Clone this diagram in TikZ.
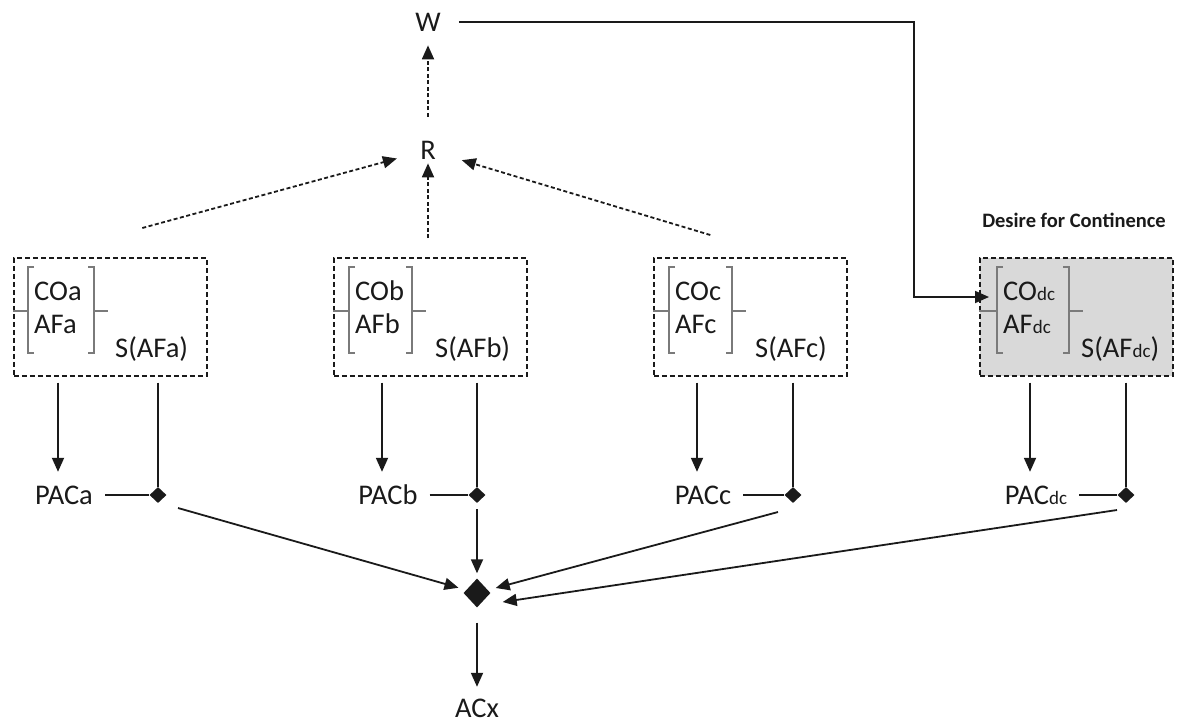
\documentclass[tikz,border=0pt]{standalone}
\usepackage{fontspec}
\setmainfont{Carlito}
\usetikzlibrary{arrows.meta,shapes.geometric}
\definecolor{ink}{HTML}{1A1A1A}
\definecolor{brkcol}{HTML}{7A7A7A}
\definecolor{shade}{HTML}{D9D9D9}
\newcommand\subdc{{\fontsize{19}{19}\selectfont dc}}
\newcommand\mkgrp[8]{%
 \node[grpbox,#4,anchor=north west] (box#1) at (#2,257) {};
 \draw[brkline] (#5+6,267) -- (#5,267) -- (#5,353) -- (#5+6,353);
 \draw[brkline] (#6-6,267) -- (#6,267) -- (#6,353) -- (#6-6,353);
 \draw[brkline] (#2,311) -- (#5,311);
 \draw[brkline] (#6,311) -- (#6+14,311);
 \coordinate (bl#1) at (#5,311);
 \node[txt,anchor=base west] (co#1) at (#5+6,300) {CO#3};
 \node[txt,anchor=base west] (af#1) at (#5+6,333) {AF#3};
 \node[txt,anchor=base west] (s#1) at (#2+102,357) {S(AF#3)};
 \node[pac] (pac#1) at (#7+6,495) {PAC#3};
 \node[sdia] (d#1) at (#8,495) {};
 \draw[arr,shorten <=6pt] ([xshift=-6pt]box#1.south -| pac#1.north) -- ([xshift=-6pt]pac#1.north);
 \draw[ln,shorten <=6pt] (box#1.south -| d#1) -- (d#1);
 \draw[ln] (pac#1) -- (d#1);
}
\begin{document}
\begin{tikzpicture}[x=1pt,y=-1pt,
 txt/.style={font=\fontsize{28.5}{30}\selectfont, text=ink, inner sep=0pt},
 pac/.style={txt, text height=18pt, text depth=0pt, inner xsep=12pt, inner ysep=14pt},
 grpbox/.style={draw=ink, line width=1.6pt, dash pattern=on 5pt off 3pt, minimum width=193pt, minimum height=118pt, inner sep=0pt},
 greybox/.style={fill=shade},
 brkline/.style={draw=brkcol, line width=2.4pt},
 ln/.style={draw=ink, line width=1.8pt},
 arr/.style={ln, -{Triangle[length=14pt,width=12pt]}},
 darr/.style={draw=ink, line width=1.8pt, dash pattern=on 4pt off 2.5pt, -{Triangle[length=14pt,width=12pt]}},
 sdia/.style={diamond, fill=ink, draw=none, inner sep=0pt, minimum width=17pt, minimum height=16pt},
 bdia/.style={diamond, fill=ink, draw=none, inner sep=0pt, minimum width=27pt, minimum height=29pt},
 plain/.style={}]
\useasboundingbox (0,0) rectangle (1177,724);

\mkgrp{a}{13}{a}{plain}{28}{94}{58}{158}
\mkgrp{b}{333}{b}{plain}{349}{412}{382}{477}
\mkgrp{c}{653}{c}{plain}{669}{732}{697}{793}
\mkgrp{dc}{979}{\subdc}{greybox}{997}{1069}{1030}{1126}

\node[font=\bfseries\fontsize{20.5}{22}\selectfont, text=ink] (desire) at (1074,220) {Desire for Continence};

\node[txt] (W) at (428,22) {W};
\node[txt] (R) at (428,150) {R};
\coordinate (wk) at (914,297);

\draw[darr, shorten <=24pt, shorten >=14pt] (R) -- (W);
\draw[darr, shorten <=19pt, shorten >=4pt] (boxb.north -| R) -- (R);
\draw[darr, shorten >=24pt] ([xshift=32pt,yshift=29pt]boxa.north) -- (R);
\draw[darr, shorten >=27pt] ([xshift=-40pt,yshift=22pt]boxc.north) -- (R);

\draw[arr, shorten <=18pt, shorten >=8pt] (W.east) -| (wk) -- (wk -| bldc);

\node[bdia] (X) at (477,593) {};
\node[txt, text height=18pt, text depth=0pt] (ACx) at (477,708) {ACx};

\draw[arr, shorten >=8pt] ([xshift=20pt,yshift=-13pt]da.center) -- (X);
\draw[arr, shorten <=6pt, shorten >=5pt] (db) -- (X);
\draw[arr, shorten >=8pt] ([xshift=-15pt,yshift=-17pt]dc.center) -- (X);
\draw[arr] ([xshift=-9pt,yshift=-15pt]ddc.center) -- ([xshift=12pt,yshift=-9pt]X.east);
\draw[arr, shorten <=15pt, shorten >=12pt] (X) -- (ACx);
\end{tikzpicture}
\end{document}
